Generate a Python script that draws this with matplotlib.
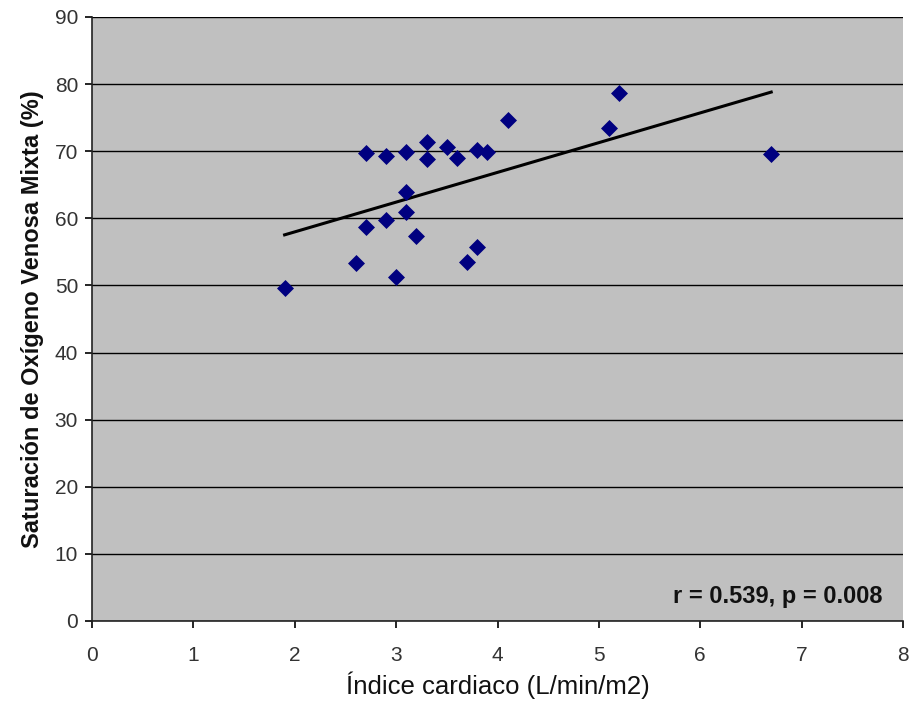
import numpy as np
import matplotlib.pyplot as plt

# Índice cardiaco vs saturación venosa mixta
indice_cardiaco = [1.9, 2.6, 2.7, 2.7, 2.9, 2.9, 3.0, 3.1, 3.1, 3.1, 3.2, 3.3,
                   3.3, 3.5, 3.6, 3.7, 3.8, 3.8, 3.9, 4.1, 5.1, 5.2, 6.7]
saturacion = [49.6, 53.3, 58.7, 69.7, 59.8, 69.3, 51.3, 69.9, 63.9, 61.0, 57.4, 71.4,
              68.9, 70.6, 69.0, 53.5, 70.2, 55.7, 69.9, 74.7, 73.5, 78.7, 69.6]

plt.rcParams['font.family'] = ['Liberation Sans', 'DejaVu Sans']

fig = plt.figure(figsize=(9.09, 7.13), dpi=100)
ax = fig.add_axes([92 / 909, 1 - 621 / 713, 811 / 909, 604 / 713])
ax.set_facecolor('#C0C0C0')

x = np.array(indice_cardiaco)
y = np.array(saturacion)
pendiente, intercepto = np.polyfit(x, y, 1)
xl = np.array([x.min(), x.max()])
ax.plot(xl, pendiente * xl + intercepto, color='black', lw=2.2, zorder=3)

ax.scatter(x, y, marker='D', s=75, color='#000080', zorder=4, linewidths=0)

ax.set_xlim(0, 8)
ax.set_ylim(0, 90)
ax.set_xticks(range(0, 9))
ax.set_yticks(range(0, 91, 10))
ax.yaxis.grid(True, color='black', lw=1)
ax.set_axisbelow(True)

for s in ['top', 'right']:
    ax.spines[s].set_visible(False)
for s in ['left', 'bottom']:
    ax.spines[s].set_color('#222222')
    ax.spines[s].set_linewidth(1.2)
ax.tick_params(direction='out', length=5, width=1.2, labelsize=15,
               labelcolor='#333333')
ax.tick_params(axis='y', pad=5)
ax.tick_params(axis='x', pad=13)

ax.set_xlabel('Índice cardiaco (L/min/m2)', fontsize=18.5, labelpad=5,
              color='#111111')
ax.set_ylabel('Saturación de Oxígeno Venosa Mixta (%)', fontsize=17,
              fontweight='bold', labelpad=8, color='#111111')

ax.text(0.975, 0.04, 'r = 0.539, p = 0.008', transform=ax.transAxes,
        ha='right', va='center', fontsize=17, fontweight='bold',
        color='#111111')

fig.savefig('out.png', dpi=100, facecolor='white')
